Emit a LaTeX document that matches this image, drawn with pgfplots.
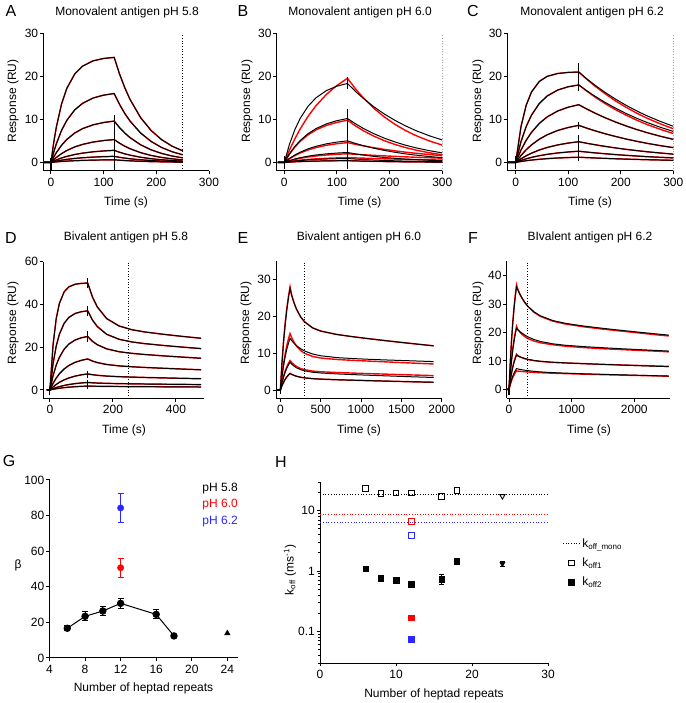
\documentclass[border=0pt]{standalone}
\usepackage{fontspec}
\setmainfont{Liberation Sans}
\setsansfont{Liberation Sans}
\usepackage{pgfplots}
\usepackage{pgfplotstable}
\pgfplotsset{compat=1.18}

\newcommand{\tk}{\fontsize{12}{14}\selectfont}
\newcommand{\lb}{\fontsize{12}{14}\selectfont}
\newcommand{\pl}{\fontsize{16}{18}\selectfont}
\definecolor{lblue}{RGB}{40,40,255}

\pgfplotsset{
 spr/.style={
   scale only axis,
   anchor=south west,
   axis x line=bottom, axis y line=left,
   axis line style={-, line width=1pt},
   tick align=outside,
   major tick length=3.5pt,
   minor tick length=2pt,
   tick style={black, line width=1pt},
   tick label style={font=\tk},
   yticklabel style={inner sep=1.5pt},
   /pgf/number format/assume math mode=true,
   /pgf/number format/1000 sep={},
   scaled ticks=false,
 },
 blk/.style={black, line width=1pt, no markers},
 rd/.style={red, line width=1.4pt, no markers},
 spk/.style={black, line width=1.1pt, no markers, unbounded coords=jump},
 dtl/.style={black, dotted, line width=0.7pt, no markers},
}

\pgfplotstableread{
t b1 b2 b3 b4 b5 b6 b7
-14 0 0 0 0 0 0 0
0 0 0 0 0 0 0 0
5 4.46 2.29 1.19 0.60 0.29 0.15 0.06
10 8.11 4.26 2.23 1.13 0.56 0.28 0.12
20 13.55 7.42 3.97 2.03 1.02 0.51 0.22
30 17.19 9.76 5.33 2.76 1.39 0.70 0.30
45 20.53 12.19 6.82 3.59 1.83 0.92 0.39
60 22.37 13.73 7.85 4.18 2.15 1.08 0.46
80 23.60 14.96 8.73 4.73 2.46 1.23 0.53
100 24.15 15.63 9.27 5.08 2.66 1.33 0.57
120 24.40 16.00 9.60 5.30 2.80 1.40 0.60
130 20.59 13.50 8.10 4.47 2.36 1.18 0.51
140 17.37 11.39 6.83 3.77 1.99 1.00 0.43
150 14.65 9.61 5.76 3.18 1.68 0.84 0.36
170 10.43 6.84 4.10 2.27 1.20 0.60 0.26
190 7.42 4.87 2.92 1.61 0.85 0.43 0.18
210 5.28 3.46 2.08 1.15 0.61 0.30 0.13
230 3.76 2.47 1.48 0.82 0.43 0.22 0.09
250 2.68 1.76 1.05 0.58 0.31 0.15 0.07
}\tabA

\pgfplotstableread{
t b1 b2 b3 b4 b5 b6 r1 r2 r3 r4 r5
-12 0 0 0 0 0 0 0 0 0 0 0
0 0 0 0 0 0 0 0 0 0 0 0
10 4.27 2.03 0.93 0.43 0.17 0.07 2.90 1.95 0.86 0.37 0.20
20 7.59 3.70 1.71 0.79 0.31 0.14 5.46 3.55 1.57 0.68 0.37
30 10.18 5.06 2.36 1.09 0.42 0.19 7.74 4.86 2.17 0.94 0.52
45 13.03 6.66 3.14 1.44 0.57 0.25 10.68 6.39 2.89 1.26 0.69
60 14.99 7.84 3.73 1.72 0.67 0.30 13.14 7.53 3.43 1.49 0.82
80 16.69 8.95 4.31 1.98 0.78 0.35 15.80 8.60 3.97 1.72 0.95
100 17.72 9.70 4.72 2.17 0.85 0.38 17.89 9.30 4.34 1.89 1.04
120 18.34 10.20 5.00 2.30 0.90 0.40 19.54 9.80 4.60 2.00 1.10
135 16.51 8.98 4.41 1.98 0.77 0.34 17.12 8.50 4.20 1.88 1.04
150 14.87 7.90 3.89 1.70 0.67 0.30 15.01 7.37 3.84 1.77 0.98
170 12.92 6.67 3.29 1.40 0.55 0.24 12.58 6.10 3.41 1.64 0.90
190 11.24 5.63 2.78 1.14 0.45 0.20 10.55 5.04 3.02 1.51 0.83
210 9.77 4.75 2.35 0.94 0.37 0.16 8.85 4.17 2.68 1.40 0.77
230 8.49 4.00 1.98 0.77 0.30 0.13 7.42 3.45 2.38 1.29 0.71
250 7.38 3.38 1.68 0.63 0.25 0.11 6.22 2.85 2.11 1.19 0.65
275 6.20 2.73 1.36 0.49 0.19 0.08 5.00 2.24 1.82 1.08 0.59
300 5.20 2.21 1.10 0.38 0.15 0.07 4.01 1.77 1.56 0.97 0.54
}\tabB

\pgfplotstableread{
t c1 c2 c3 c4 c5 c6 c7 r1 r2
-15 0 0 0 0 0 0 0 0 0
0 0 0 0 0 0 0 0 0 0
10 8.28 4.80 2.85 1.60 0.83 0.45 0.21 8.28 4.80
20 13.31 8.35 5.14 2.94 1.54 0.83 0.39 13.31 8.35
30 16.35 10.98 6.97 4.06 2.14 1.16 0.54 16.35 10.98
45 18.83 13.70 9.07 5.40 2.88 1.56 0.72 18.83 13.70
60 20.00 15.44 10.58 6.42 3.47 1.87 0.87 20.00 15.44
80 20.66 16.82 11.95 7.42 4.06 2.19 1.02 20.66 16.82
100 20.91 17.58 12.83 8.11 4.49 2.42 1.12 20.91 17.58
120 21.00 18.00 13.40 8.60 4.80 2.59 1.20 21.00 18.00
135 19.46 16.68 12.42 7.97 4.45 2.40 1.11 19.34 16.58
150 18.02 15.45 11.50 7.38 4.12 2.22 1.03 17.81 15.26
170 16.27 13.95 10.38 6.66 3.72 2.01 0.93 15.96 13.68
190 14.70 12.60 9.38 6.02 3.36 1.81 0.84 14.28 12.24
210 13.27 11.37 8.47 5.43 3.03 1.64 0.76 12.81 10.98
230 11.98 10.27 7.65 4.91 2.74 1.48 0.69 11.47 9.83
250 10.82 9.28 6.91 4.43 2.47 1.33 0.62 10.27 8.80
275 9.53 8.17 6.08 3.90 2.18 1.18 0.55 8.97 7.69
300 8.39 7.19 5.35 3.43 1.92 1.04 0.48 7.81 6.70
}\tabC

\pgfplotstableread{
t d1 d2 d3 d4 d5 d6 d7
-10 0 0 0 0 0 0 0
0 0 0 0 0 0 0 0
10 21.19 12.30 6.66 3.08 1.40 0.61 0.31
20 33.40 20.54 11.60 5.55 2.56 1.12 0.58
30 40.46 26.07 15.25 7.54 3.54 1.56 0.80
45 45.85 31.13 19.04 9.80 4.71 2.10 1.08
60 48.22 33.92 21.45 11.43 5.60 2.53 1.30
80 49.45 35.78 23.37 12.92 6.47 2.96 1.52
100 49.86 36.62 24.42 13.87 7.08 3.27 1.68
120 50.00 37.00 25.00 14.50 7.50 3.50 1.80
135 43.48 32.71 22.77 13.51 7.13 3.34 1.75
150 38.92 29.71 21.19 12.81 6.85 3.23 1.72
180 33.40 26.05 19.22 11.91 6.49 3.08 1.66
220 29.89 23.67 17.87 11.25 6.20 2.95 1.61
260 28.18 22.46 17.12 10.84 6.01 2.86 1.57
300 27.15 21.68 16.59 10.53 5.84 2.78 1.53
360 26.03 20.81 15.95 10.14 5.63 2.68 1.47
420 25.06 20.05 15.37 9.77 5.43 2.59 1.42
480 24.17 19.34 14.82 9.43 5.24 2.50 1.37
}\tabD

\pgfplotstableread{
t e1 e2 e3 e4 s1 s2 s3
-50 0 0 0 0 0 0 0
0 0 0 0 0 0 0 0
20 7.13 3.63 1.95 1.17 7.50 3.97 2.08
40 12.97 6.61 3.54 2.12 13.50 7.22 3.77
60 17.76 9.04 4.84 2.91 18.30 9.88 5.17
80 21.67 11.03 5.91 3.55 22.20 12.06 6.30
100 24.88 12.66 6.78 4.07 25.40 13.84 7.24
120 27.50 14.00 7.50 4.50 28.00 15.30 8.00
140 25.75 13.42 7.03 4.25 25.75 14.23 7.47
170 23.60 12.67 6.47 3.96 23.60 12.92 6.86
200 21.92 12.04 6.04 3.74 21.92 11.93 6.39
250 19.88 11.22 5.53 3.47 19.88 10.74 5.85
300 18.49 10.59 5.20 3.30 18.49 9.96 5.51
400 16.85 9.77 4.82 3.08 16.85 9.10 5.14
500 15.99 9.29 4.62 2.95 15.99 8.68 4.95
700 15.07 8.79 4.37 2.79 15.07 8.28 4.75
900 14.45 8.53 4.18 2.66 14.45 8.04 4.59
1100 13.91 8.33 4.01 2.54 13.91 7.84 4.44
1300 13.40 8.16 3.85 2.42 13.40 7.64 4.31
1500 12.91 8.01 3.69 2.31 12.91 7.44 4.17
1700 12.44 7.86 3.54 2.20 12.44 7.25 4.04
1900 11.99 7.71 3.40 2.10 11.99 7.06 3.91
}\tabE

\pgfplotstableread{
t f1 f2 f3 f4 g1 g2 g3 g4
-40 0 0 0 0 0 0 0 0
0 0 0 0 0 0 0 0 0
20 9.34 5.58 3.11 1.89 9.55 5.76 3.22 1.69
40 16.98 10.14 5.66 3.44 17.36 10.47 5.85 3.07
60 23.25 13.88 7.75 4.71 23.76 14.33 8.01 4.20
80 28.37 16.94 9.46 5.75 29.00 17.50 9.77 5.12
100 32.57 19.45 10.86 6.60 33.29 20.08 11.22 5.88
120 36.00 21.50 12.00 7.30 36.80 22.20 12.40 6.50
140 34.97 21.05 11.78 7.20 35.30 21.00 11.90 6.45
170 33.60 20.45 11.49 7.06 33.70 20.20 11.50 6.38
200 32.39 19.91 11.23 6.93 32.40 19.50 11.20 6.31
250 30.68 19.14 10.88 6.75 30.60 18.60 10.80 6.22
300 29.30 18.50 10.60 6.60 29.20 17.90 10.50 6.13
400 27.27 17.54 10.19 6.35 27.10 17.00 10.10 5.99
500 25.89 16.87 9.90 6.16 25.70 16.40 9.85 5.87
700 24.22 16.03 9.55 5.90 24.00 15.70 9.50 5.69
900 23.25 15.53 9.32 5.72 23.00 15.20 9.30 5.55
1200 22.27 15.04 9.05 5.49 22.00 14.70 9.05 5.36
1500 21.49 14.66 8.79 5.30 21.20 14.30 8.80 5.19
1800 20.76 14.30 8.56 5.12 20.50 14.00 8.60 5.03
2100 20.07 13.97 8.33 4.95 19.80 13.70 8.40 4.87
2400 19.41 13.65 8.11 4.78 19.10 13.40 8.20 4.72
2550 19.09 13.49 8.00 4.70 18.80 13.20 8.10 4.64
}\tabF

\begin{document}
\begin{tikzpicture}[x=1pt,y=1pt]
\path[use as bounding box] (0,0) rectangle (685,703);

% ---------- A ----------
\begin{axis}[spr, at={(43.3pt,532pt)}, width=165.7pt, height=137.7pt,
  xmin=-14.6, xmax=300, ymin=-2, ymax=30, xtick={0,100,200,300}, ytick={0,10,20,30}]
\pgfplotsinvokeforeach{1,...,7}{\addplot[rd] table[x=t,y=b#1]{\tabA};}
\pgfplotsinvokeforeach{1,...,7}{\addplot[blk] table[x=t,y=b#1]{\tabA};}
\addplot[spk] coordinates {(0,-1.8) (0,1) (0,nan) (120,-1.8) (120,11)};
\addplot[dtl] coordinates {(250,-2) (250,30)};
\end{axis}

% ---------- B ----------
\begin{axis}[spr, at={(276.7pt,532pt)}, width=165.6pt, height=137.7pt,
  xmin=-14.4, xmax=300, ymin=-2, ymax=30, xtick={0,100,200,300}, ytick={0,10,20,30}]
\pgfplotsinvokeforeach{1,...,5}{\addplot[rd] table[x=t,y=r#1]{\tabB};}
\addplot[rd] table[x=t,y=b6]{\tabB};
\pgfplotsinvokeforeach{1,...,6}{\addplot[blk] table[x=t,y=b#1]{\tabB};}
\addplot[spk] coordinates {(0,-1.5) (0,1.5) (0,nan) (120,-1.5) (120,12.5) (120,nan) (120,17) (120,19.8)};
\addplot[dtl] coordinates {(300,-2) (300,30)};
\end{axis}

% ---------- C ----------
\begin{axis}[spr, at={(507.3pt,532pt)}, width=166pt, height=137.7pt,
  xmin=-16, xmax=300, ymin=-2, ymax=30, xtick={0,100,200,300}, ytick={0,10,20,30}]
\addplot[rd] table[x=t,y=r1]{\tabC};
\addplot[rd] table[x=t,y=r2]{\tabC};
\pgfplotsinvokeforeach{3,...,7}{\addplot[rd] table[x=t,y=c#1]{\tabC};}
\pgfplotsinvokeforeach{1,...,7}{\addplot[blk] table[x=t,y=c#1]{\tabC};}
\addplot[spk] coordinates {(0,-1.5) (0,1.5) (0,nan) (120,19.5) (120,23) (120,nan) (120,16.5) (120,19.5) (120,nan) (120,7.8) (120,9.5) (120,nan) (120,0.3) (120,6.3)};
\addplot[dtl] coordinates {(300,-2) (300,30)};
\end{axis}

% ---------- D ----------
\begin{axis}[spr, at={(43.3pt,304.5pt)}, width=161pt, height=136.8pt,
  xmin=-21, xmax=490, ymin=-4, ymax=60, xtick={0,200,400}, ytick={0,20,40,60}]
\pgfplotsinvokeforeach{1,...,7}{\addplot[rd] table[x=t,y=d#1]{\tabD};}
\pgfplotsinvokeforeach{1,...,7}{\addplot[blk] table[x=t,y=d#1]{\tabD};}
\addplot[spk] coordinates {(0,-2.5) (0,1.5) (0,nan) (120,47.5) (120,52.5) (120,nan) (120,34.5) (120,39.5) (120,nan) (120,22.5) (120,27.5) (120,nan) (120,5.5) (120,9) (120,nan) (120,0.5) (120,4.5)};
\addplot[dtl] coordinates {(250,-4) (250,60)};
\end{axis}

% ---------- E ----------
\begin{axis}[spr, at={(276pt,304.5pt)}, width=165.7pt, height=137.5pt,
  xmin=-54, xmax=2000, ymin=-2.3, ymax=35, xtick={0,500,1000,1500,2000}, ytick={0,10,20,30}]
\addplot[rd] table[x=t,y=s1]{\tabE};
\addplot[rd] table[x=t,y=s2]{\tabE};
\addplot[rd] table[x=t,y=s3]{\tabE};
\addplot[rd] table[x=t,y=e4]{\tabE};
\pgfplotsinvokeforeach{1,...,4}{\addplot[blk] table[x=t,y=e#1]{\tabE};}
\addplot[spk] coordinates {(0,-1.2) (0,0.5)};
\addplot[dtl] coordinates {(300,-2.3) (300,35)};
\end{axis}

% ---------- F ----------
\begin{axis}[spr, at={(506.7pt,304.5pt)}, width=163.3pt, height=137pt,
  xmin=-37, xmax=2570, ymin=-3.2, ymax=45, xtick={0,1000,2000}, ytick={0,10,20,30,40}]
\pgfplotsinvokeforeach{1,...,4}{\addplot[rd] table[x=t,y=g#1]{\tabF};}
\pgfplotsinvokeforeach{1,...,4}{\addplot[blk] table[x=t,y=f#1]{\tabF};}
\addplot[spk] coordinates {(0,-2) (0,0.5)};
\addplot[dtl] coordinates {(300,-3.2) (300,45)};
\end{axis}

% ---------- G ----------
\begin{axis}[spr, at={(49.5pt,45pt)}, width=188.5pt, height=178pt,
  xmin=4, xmax=25.2, ymin=0, ymax=100, xtick={4,8,12,16,20,24}, ytick={0,20,40,60,80,100}]
\addplot[black, line width=1pt, mark=*, mark size=3.2pt,
  error bars/.cd, y dir=both, y explicit, error bar style={line width=1pt, black},
  error mark options={rotate=90, black, line width=1pt, mark size=3pt}]
  coordinates {(6,16.7) +- (0,1.5) (8,23.4) +- (0,2.5) (10,26.4) +- (0,2.5) (12,30.7) +- (0,3) (16,24.5) +- (0,2.5) (18,12.4) +- (0,0.6)};
\addplot[black, only marks, mark=triangle*, mark size=3.2pt] coordinates {(24,13.9)};
\addplot[red, only marks, mark=*, mark size=3.2pt,
  error bars/.cd, y dir=both, y explicit, error bar style={line width=1pt, red},
  error mark options={rotate=90, red, line width=1pt, mark size=3pt}]
  coordinates {(12,50.7) +- (0,5.3)};
\addplot[lblue, only marks, mark=*, mark size=3.2pt,
  error bars/.cd, y dir=both, y explicit, error bar style={line width=1pt, lblue},
  error mark options={rotate=90, lblue, line width=1pt, mark size=3pt}]
  coordinates {(12,84.3) +- (0,8.2)};
\node[anchor=east, font=\lb, text=black, inner sep=0pt] at (axis cs:25.2,95.3) {pH 5.8};
\node[anchor=east, font=\lb, text=red, inner sep=0pt] at (axis cs:25.2,86.0) {pH 6.0};
\node[anchor=east, font=\lb, text=lblue, inner sep=0pt] at (axis cs:25.2,76.6) {pH 6.2};
\end{axis}

% ---------- H ----------
\begin{axis}[spr, at={(320pt,40pt)}, width=228pt, height=181pt,
  xmin=0, xmax=30, ymode=log, ymin=0.03, ymax=30,
  xtick={0,10,20,30}, ytick={0.1,1,10}, yticklabels={0.1,1,10},
  minor ytick={0.03,0.04,0.05,0.06,0.07,0.08,0.09,0.2,0.3,0.4,0.5,0.6,0.7,0.8,0.9,2,3,4,5,6,7,8,9,20,30},
  legend cell align=left,
  legend style={draw=none, fill=none, at={(rel axis cs:1.05,0.71)}, anchor=north west, font=\lb, row sep=5pt,
    nodes={inner xsep=2pt}}]
\addlegendimage{black, dotted, line width=0.7pt}
\addlegendentry{k\textsubscript{off\_mono}}
\addlegendimage{black, only marks, mark=square, mark size=2.8pt, line width=0.9pt}
\addlegendentry{k\textsubscript{off1}}
\addlegendimage{black, only marks, mark=square*, mark size=2.8pt}
\addlegendentry{k\textsubscript{off2}}
\addplot[forget plot, black, dotted, line width=0.7pt] coordinates {(0,18.9) (30,18.9)};
\addplot[forget plot, red, dotted, line width=0.7pt] coordinates {(0,8.8) (30,8.8)};
\addplot[forget plot, lblue, dotted, line width=0.8pt] coordinates {(0,6.3) (30,6.3)};
\addplot[forget plot, black, only marks, mark=square, mark size=2.8pt, line width=0.9pt]
  coordinates {(6,23.2) (8,19.4) (10,19.9) (12,19.9) (16,17.3) (18,21.5)};
\addplot[forget plot, black, only marks, mark=triangle, mark size=3pt, line width=0.9pt, mark options={rotate=180}]
  coordinates {(24,17.5)};
\addplot[forget plot, red, only marks, mark=square, mark size=2.8pt, line width=0.9pt] coordinates {(12,6.65)};
\addplot[forget plot, lblue, only marks, mark=square, mark size=2.8pt, line width=0.9pt] coordinates {(12,3.9)};
\addplot[forget plot, black, only marks, mark=square*, mark size=2.8pt]
  coordinates {(6,1.09) (8,0.77) (10,0.70) (12,0.61) (18,1.47)};
\addplot[forget plot, black, only marks, mark=square*, mark size=2.8pt,
  error bars/.cd, y dir=both, y explicit, error bar style={line width=1pt, black},
  error mark options={rotate=90, black, line width=1pt, mark size=2.5pt}]
  coordinates {(16,0.74) +- (0,0.13)};
\addplot[forget plot, black, only marks, mark=triangle*, mark size=3pt, mark options={rotate=180},
  error bars/.cd, y dir=both, y explicit, error bar style={line width=1pt, black},
  error mark options={rotate=90, black, line width=1pt, mark size=2.5pt}]
  coordinates {(24,1.32) +- (0,0.12)};
\addplot[forget plot, red, only marks, mark=square*, mark size=2.8pt] coordinates {(12,0.17)};
\addplot[forget plot, lblue, only marks, mark=square*, mark size=2.8pt] coordinates {(12,0.074)};
\end{axis}

% ---------- titles, letters, labels ----------
\node[font=\lb] at (127,691) {Monovalent antigen pH 5.8};
\node[font=\lb] at (360,691) {Monovalent antigen pH 6.0};
\node[font=\lb] at (592,691) {Monovalent antigen pH 6.2};
\node[font=\lb] at (126,466) {Bivalent antigen pH 5.8};
\node[font=\lb] at (359,466) {Bivalent antigen pH 6.0};
\node[font=\lb] at (590,466) {BIvalent antigen pH 6.2};

\node[font=\pl] at (11,692) {A};
\node[font=\pl] at (243,692) {B};
\node[font=\pl] at (473,692) {C};
\node[font=\pl] at (11,465) {D};
\node[font=\pl] at (243,465) {E};
\node[font=\pl] at (473,465) {F};
\node[font=\pl] at (9,242) {G};
\node[font=\pl] at (281,241) {H};

\node[font=\lb, rotate=90] at (13,602) {Response (RU)};
\node[font=\lb, rotate=90] at (247,602) {Response (RU)};
\node[font=\lb, rotate=90] at (478,602) {Response (RU)};
\node[font=\lb, rotate=90] at (13,380) {Response (RU)};
\node[font=\lb, rotate=90] at (246,380) {Response (RU)};
\node[font=\lb, rotate=90] at (478,380) {Response (RU)};

\node[font=\lb] at (126,501) {Time (s)};
\node[font=\lb] at (359.5,501) {Time (s)};
\node[font=\lb] at (590,501) {Time (s)};
\node[font=\lb] at (124,273) {Time (s)};
\node[font=\lb] at (359,273) {Time (s)};
\node[font=\lb] at (589,273) {Time (s)};

\node[font=\lb] at (143.5,15) {Number of heptad repeats};
\node[font=\lb] at (434,9) {Number of heptad repeats};
\node[font=\lb] at (18,138) {β};
\node[font=\lb, rotate=90] at (290,133) {k\textsubscript{off} (ms\textsuperscript{-1})};
\end{tikzpicture}
\end{document}
